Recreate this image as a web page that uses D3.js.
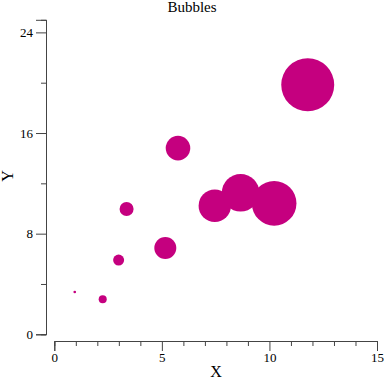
<!DOCTYPE html>
<html><head><meta charset="utf-8">
<script src="https://cdn.jsdelivr.net/npm/d3@7"></script>
<style>body{margin:0;background:#fff}svg{display:block}</style>
</head><body>
<script>
const xs = [0.95, 2.25, 2.99, 3.36, 5.16, 5.75, 7.46, 8.66, 10.22, 11.78];
const ys = [3.36, 2.78, 5.9, 9.96, 6.86, 14.8, 10.22, 11.25, 10.41, 19.83];
const sizes = [0.25, 2.3, 4.3, 7, 17.2, 21.5, 37.4, 50.3, 70.8, 100];
const xTicks = [0, 5, 10, 15];
const yTicks = [0, 8, 16, 24];
const xMinor = [1,2,3,4,6,7,8,9,11,12,13,14];
const yMinor = [4,12,20];

const W = 384, H = 384;
const svg = d3.select("body").append("svg").attr("width", W).attr("height", H);
const x = d3.scaleLinear().domain([0,15]).range([54.3,377]);
const y = d3.scaleLinear().domain([0,25]).range([334.3,19.8]);
const r = d3.scaleSqrt().domain([0,100]).range([0,26.5]);
const font = "'Liberation Serif', 'DejaVu Serif', serif";
const axisColor = "#444";

// x axis
const gx = svg.append("g").attr("transform","translate(0,341)");
gx.call(d3.axisBottom(x).tickValues(xTicks).tickSize(10).tickPadding(2).tickFormat(d3.format("d")));
gx.append("g").call(d3.axisBottom(x).tickValues(xMinor).tickSize(5).tickFormat(""));
// y axis
const gy = svg.append("g").attr("transform","translate(46,0)");
gy.call(d3.axisLeft(y).tickValues(yTicks).tickSize(10).tickPadding(3).tickFormat(d3.format("d")));
gy.append("g").call(d3.axisLeft(y).tickValues(yMinor).tickSize(5).tickFormat(""));
svg.selectAll(".domain").attr("stroke", axisColor);
svg.selectAll(".tick line").attr("stroke", axisColor);
svg.selectAll(".tick text").attr("font-family", font).attr("font-size", 13).attr("fill","#000");

// bubbles
const data = xs.map((d,i)=>({x:d, y:ys[i], s:sizes[i]}));
svg.append("g").selectAll("circle").data(data).join("circle")
  .attr("cx", d=>x(d.x)).attr("cy", d=>y(d.y)).attr("r", d=>r(d.s))
  .attr("fill", "#c5007f");

// labels
svg.append("text").attr("x",192).attr("y",12).attr("text-anchor","middle")
  .attr("font-family",font).attr("font-size",15).text("Bubbles");
svg.append("text").attr("x",216).attr("y",377).attr("text-anchor","middle")
  .attr("font-family",font).attr("font-size",16).text("X");
svg.append("text").attr("transform","translate(13,176) rotate(-90)").attr("text-anchor","middle")
  .attr("font-family",font).attr("font-size",16).text("Y");
</script>
</body></html>
